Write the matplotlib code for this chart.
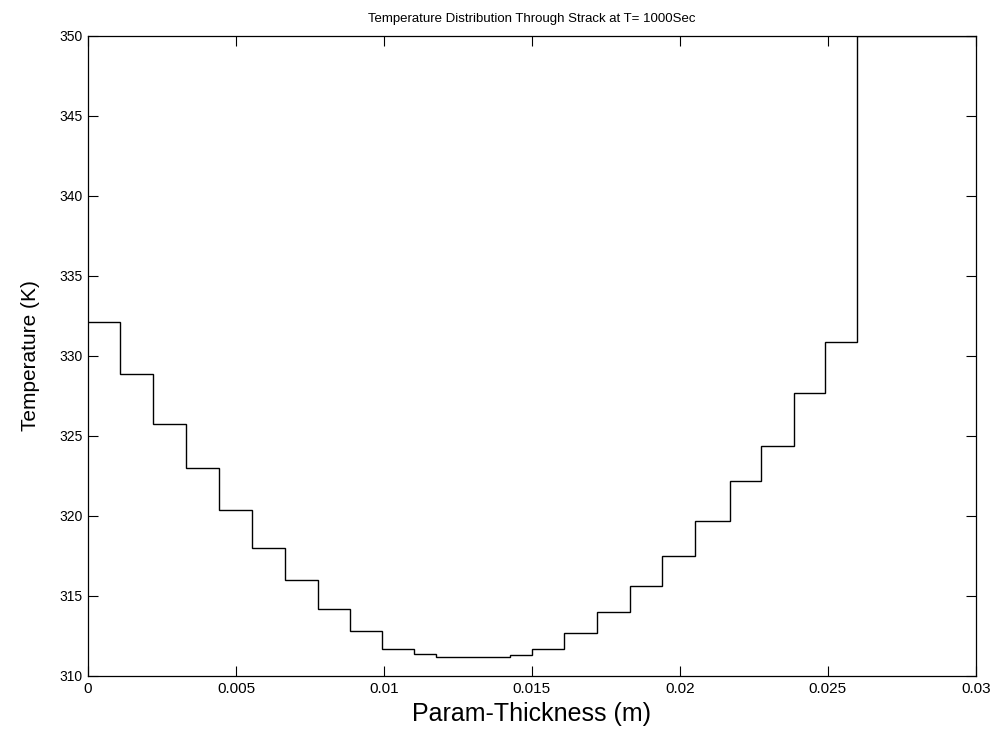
import numpy as np
import matplotlib
matplotlib.use("Agg")
import matplotlib.pyplot as plt

# layer boundaries through the stack (m)
edges = [0.0, 0.00109, 0.00219, 0.00332, 0.00444, 0.00553, 0.00665, 0.00776, 0.00885,
         0.00993, 0.01102, 0.01175, 0.01426, 0.01500, 0.01610, 0.01720, 0.01830,
         0.01940, 0.02050, 0.02170, 0.02275, 0.02385, 0.02490, 0.02600, 0.03000]
# temperature in each layer (K)
temps = [332.1, 328.9, 325.75, 323.0, 320.35, 318.0, 316.0, 314.2, 312.8, 311.7,
         311.4, 311.2, 311.3,
         311.7, 312.7, 314.0, 315.6, 317.5, 319.7, 322.2, 324.4, 327.7, 330.9,
         350.0]

xticks = [0, 0.005, 0.01, 0.015, 0.02, 0.025, 0.03]
xticklabels = ["0", "0.005", "0.01", "0.015", "0.02", "0.025", "0.03"]
yticks = [310, 315, 320, 325, 330, 335, 340, 345, 350]
yticklabels = ["310", "315", "320", "325", "330", "335", "340", "345", "350"]

plt.rcParams['font.family'] = ["Liberation Sans", "DejaVu Sans"]

fig = plt.figure(figsize=(9.92, 7.39), dpi=100)
ax = fig.add_axes([0.0887, 0.0853, 0.895, 0.866])

ax.stairs(temps, edges, baseline=None, color="black", linewidth=1.0)

ax.set_xlim(0, 0.03)
ax.set_ylim(310, 350)
ax.set_xticks(xticks)
ax.set_xticklabels(xticklabels, fontsize=11)
ax.set_yticks(yticks)
ax.set_yticklabels(yticklabels, fontsize=10)
ax.tick_params(direction="in", top=True, right=True, length=7, width=0.8, pad=4)
for s in ax.spines.values():
    s.set_linewidth(0.9)

ax.set_title("Temperature Distribution Through Strack at T= 1000Sec", fontsize=9.5, pad=10)
ax.set_xlabel("Param-Thickness (m)", fontsize=18, labelpad=5)
ax.set_ylabel("Temperature (K)", fontsize=15, labelpad=14)

plt.savefig("out.png", dpi=100)
